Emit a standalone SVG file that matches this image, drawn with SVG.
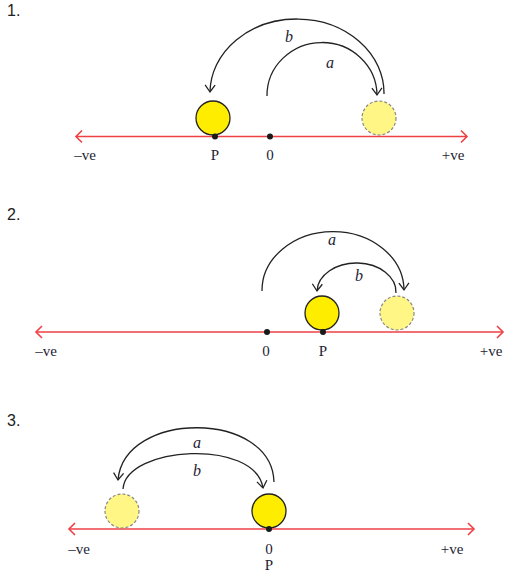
<svg xmlns="http://www.w3.org/2000/svg" width="514" height="576" viewBox="0 0 514 576">
<style>
.axis{stroke:#ee4045;stroke-width:1.6;fill:none}
.arc{stroke:#222;stroke-width:1.3;fill:none}
.ball{fill:#ffed00;stroke:#222;stroke-width:1.3}
.ghost{fill:#fff685;stroke:#888;stroke-width:1.2;stroke-dasharray:3,2}
.dot{fill:#1a1a1a}
.lbl{font-family:"Liberation Serif","DejaVu Serif",serif;font-size:15px;fill:#1e2333;text-anchor:middle}
.var{font-family:"Liberation Serif","DejaVu Serif",serif;font-size:16px;font-style:italic;fill:#1e2333;text-anchor:middle}
.num{font-family:"Liberation Sans","DejaVu Sans",sans-serif;font-size:16px;fill:#222}
</style>
<defs>
<marker id="ah" markerUnits="userSpaceOnUse" markerWidth="16" markerHeight="16" refX="0" refY="0" viewBox="-10 -8 12 16" orient="auto">
<path d="M-7,-5 L0,0 L-7,5" fill="none" stroke="#222" stroke-width="1.3"/>
</marker>
<marker id="rh" markerUnits="userSpaceOnUse" markerWidth="16" markerHeight="16" refX="0" refY="0" viewBox="-10 -8 12 16" orient="auto-start-reverse">
<path d="M-6,-6 L0,0 L-6,6" fill="none" stroke="#ee4045" stroke-width="1.6"/>
</marker>
</defs>

<g id="panel1">
<text class="num" x="7" y="16">1.</text>
<g id="axis1"><line class="axis" x1="76" y1="136.5" x2="467" y2="136.5" marker-start="url(#rh)" marker-end="url(#rh)"/></g>
<g id="ghost1"><circle class="ghost" cx="379" cy="118" r="17"/></g>
<g id="ball1"><circle class="ball" cx="213" cy="118" r="17"/></g>
<g id="zero1"><circle class="dot" cx="270" cy="136.5" r="3"/><text class="lbl" x="270" y="160">0</text></g>
<g id="p1"><circle class="dot" cx="215" cy="136.5" r="3"/><text class="lbl" x="215" y="160">P</text></g>
<text class="lbl" x="85" y="160">–ve</text>
<text class="lbl" x="453" y="160">+ve</text>
<g id="connectors1">
<path class="arc" d="M267,96 A55,53 0 0 1 377,95" marker-end="url(#ah)"/>
<path class="arc" d="M384,94 A87,74 0 0 0 210,92" marker-end="url(#ah)"/>
</g>
<text class="var" x="330" y="68">a</text>
<text class="var" x="289" y="42">b</text>
</g>

<g id="panel2">
<text class="num" x="7" y="220">2.</text>
<g id="axis2"><line class="axis" x1="36" y1="332" x2="503" y2="332" marker-start="url(#rh)" marker-end="url(#rh)"/></g>
<g id="ghost2"><circle class="ghost" cx="397" cy="313" r="17"/></g>
<g id="ball2"><circle class="ball" cx="322" cy="313" r="17"/></g>
<g id="zero2"><circle class="dot" cx="267" cy="332" r="3"/><text class="lbl" x="266" y="356">0</text></g>
<g id="p2"><circle class="dot" cx="323" cy="332" r="3"/><text class="lbl" x="323" y="356">P</text></g>
<text class="lbl" x="46" y="356">–ve</text>
<text class="lbl" x="491" y="356">+ve</text>
<g id="connectors2">
<path class="arc" d="M262,291 A71,59 0 0 1 404,290" marker-end="url(#ah)"/>
<path class="arc" d="M396,293 A39.5,29 0 0 0 317,291" marker-end="url(#ah)"/>
</g>
<text class="var" x="332" y="245">a</text>
<text class="var" x="359" y="281">b</text>
</g>

<g id="panel3">
<text class="num" x="7" y="426">3.</text>
<g id="axis3"><line class="axis" x1="69" y1="529" x2="474" y2="529" marker-start="url(#rh)" marker-end="url(#rh)"/></g>
<g id="ghost3"><circle class="ghost" cx="122" cy="511" r="17"/></g>
<g id="ball3"><circle class="ball" cx="269" cy="511" r="17"/></g>
<g id="zero3"><circle class="dot" cx="269" cy="529" r="3"/><text class="lbl" x="269" y="554">0</text><text class="lbl" x="269" y="570">P</text></g>
<text class="lbl" x="79" y="554">–ve</text>
<text class="lbl" x="452" y="554">+ve</text>
<g id="connectors3">
<path class="arc" d="M274,482 C272,410 124,410 118,480" marker-end="url(#ah)"/>
<path class="arc" d="M123,489 C126,446 255,438 263,488" marker-end="url(#ah)"/>
</g>
<text class="var" x="197" y="448">a</text>
<text class="var" x="197" y="476">b</text>
</g>
</svg>
